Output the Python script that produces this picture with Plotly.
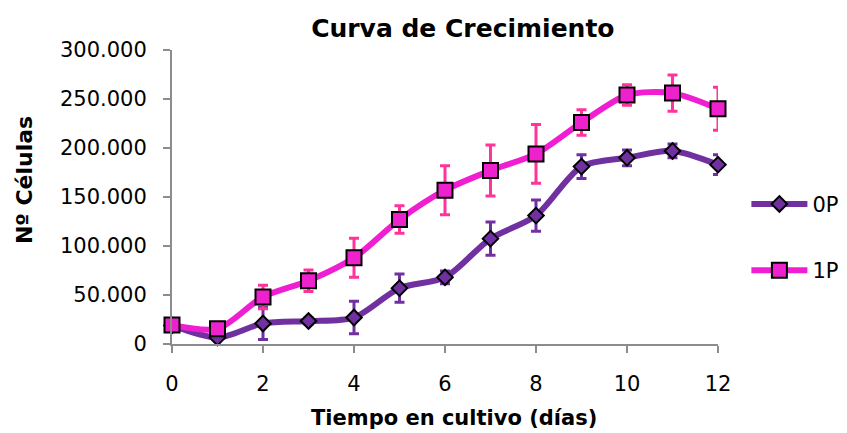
import plotly.graph_objects as go

dias = [0, 1, 2, 3, 4, 5, 6, 7, 8, 9, 10, 11, 12]
serie_0p = [19000, 6500, 21000, 23500, 27000, 57000, 68000, 107500, 131000, 181000, 190000, 197000, 183000]
error_0p = [0, 0, 16500, 3000, 16500, 14500, 6500, 17000, 16000, 12000, 8000, 7000, 10000]
serie_1p = [19500, 15500, 48000, 64500, 88000, 127000, 157000, 177000, 194000, 226000, 254000, 256000, 240000]
error_1p = [0, 0, 12000, 11000, 20000, 14000, 25000, 26000, 30000, 13000, 10500, 18500, 22000]
y_ticks = [0, 50000, 100000, 150000, 200000, 250000, 300000]
x_ticks = [0, 2, 4, 6, 8, 10, 12]

FONT = "DejaVu Sans"

fig = go.Figure()
fig.add_trace(go.Scatter(
    x=dias, y=serie_0p, name="0P", mode="lines+markers", cliponaxis=False,
    line=dict(color="#7030A0", width=6, shape="spline", smoothing=0.8),
    marker=dict(symbol="diamond", size=12, color="#7030A0", line=dict(color="black", width=2)),
    error_y=dict(type="data", array=error_0p, visible=True, color="#7030A0", thickness=3, width=5),
    legendgroup="a",
))
fig.add_trace(go.Scatter(
    x=dias, y=serie_1p, name="1P", mode="lines+markers", cliponaxis=False,
    line=dict(color="#F01ED2", width=6, shape="spline", smoothing=0.8),
    marker=dict(symbol="square", size=15, color="#EE22CC", line=dict(color="black", width=2)),
    error_y=dict(type="data", array=error_1p, visible=True, color="#FF3399", thickness=3, width=5),
    legendgroup="b",
))

fig.update_layout(
    width=847, height=433,
    margin=dict(l=164, r=137, t=42, b=97, autoexpand=False),
    paper_bgcolor="white", plot_bgcolor="white",
    separators=",.",
    title=dict(text="<b>Curva de Crecimiento</b>", x=0.537, xanchor="center", y=0.953, yanchor="middle",
               font=dict(family=FONT, size=25, color="black")),
    font=dict(family=FONT, color="black"),
    showlegend=True,
    legend=dict(x=1.052, xanchor="left", y=0.363, yanchor="middle", tracegroupgap=36,
                font=dict(size=21, family=FONT, color="black"), itemwidth=56,
                bgcolor="rgba(0,0,0,0)"),
    xaxis=dict(range=[0, 12], tickvals=x_ticks, showgrid=False, zeroline=False, automargin=False,
               showline=True, linecolor="#8c8c8c", linewidth=2,
               ticks="outside", ticklen=7, tickcolor="#8c8c8c", tickwidth=2,
               tickfont=dict(size=21, family=FONT, color="black"), ticklabelstandoff=13),
    yaxis=dict(range=[0, 300000], tickvals=y_ticks, tickformat=",d", showgrid=False, zeroline=False, automargin=False,
               showline=True, linecolor="#8c8c8c", linewidth=2,
               ticks="outside", ticklen=7, tickcolor="#8c8c8c", tickwidth=2,
               tickfont=dict(size=21, family=FONT, color="black"), ticklabelstandoff=12),
    annotations=[
        dict(text="<b>Tiempo en cultivo (días)</b>", xref="paper", yref="paper", x=0.516, y=-0.252,
             xanchor="center", yanchor="middle", showarrow=False,
             font=dict(size=21, family=FONT, color="black")),
        dict(text="<b>Nº Células</b>", xref="paper", yref="paper", x=-0.269, y=0.558,
             xanchor="center", yanchor="middle", showarrow=False, textangle=-90,
             font=dict(size=22, family=FONT, color="black")),
    ],
)

fig.write_html("out.html")
